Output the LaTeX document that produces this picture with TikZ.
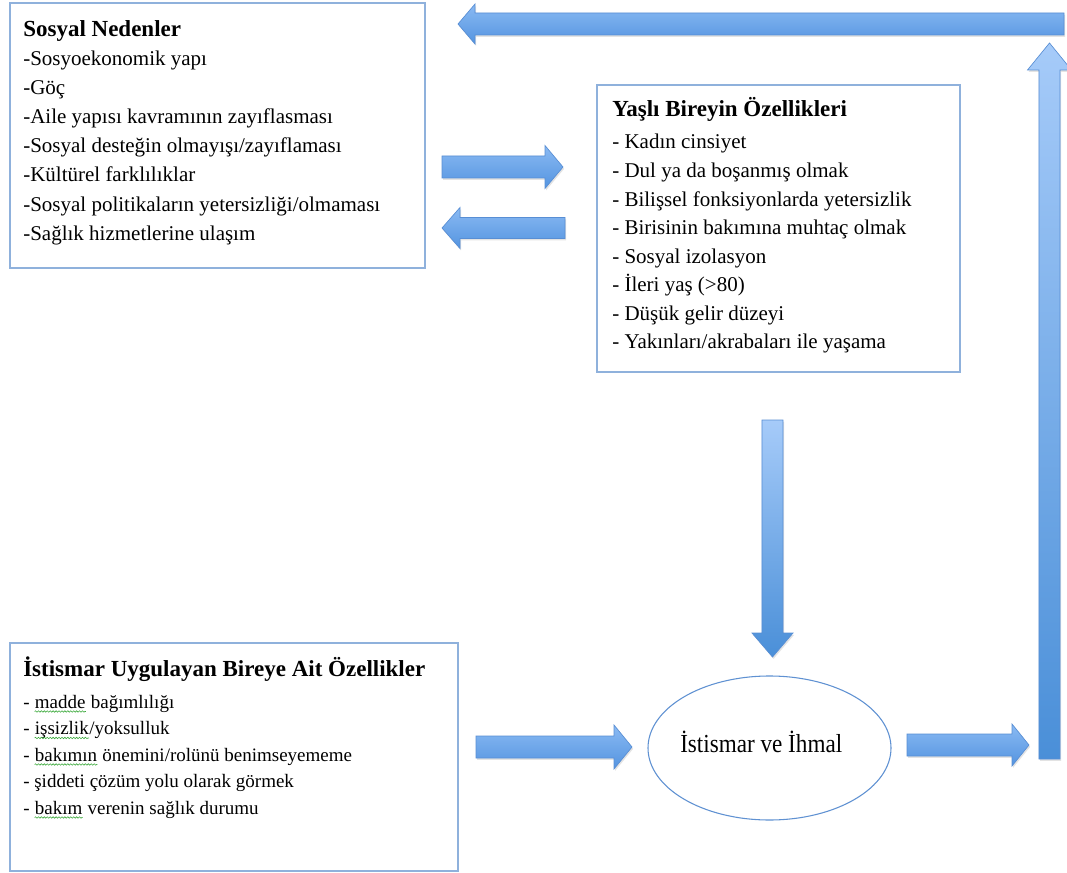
\documentclass[tikz,border=0pt]{standalone}
\usepackage{fontspec}
\setmainfont{Liberation Serif}
\usetikzlibrary{calc,shapes.geometric,shadows,decorations.pathmorphing}
\definecolor{boxline}{RGB}{143,177,220}
\definecolor{ellline}{RGB}{95,145,210}
\definecolor{arrline}{RGB}{88,142,212}
\definecolor{arrlight}{RGB}{166,203,249}
\definecolor{arrdark}{RGB}{74,143,216}
\definecolor{harrtop}{RGB}{138,186,243}
\definecolor{harrbot}{RGB}{84,148,224}
\definecolor{spellgreen}{RGB}{60,170,60}
\newcommand{\spellerr}[1]{\tikz[baseline=(spw.base)]{\node[inner sep=0pt,anchor=base] (spw) {#1};
  \draw[spellgreen,line width=0.45pt,decorate,decoration={snake,amplitude=0.55pt,segment length=2.2pt}]
    ([yshift=-2.6pt]spw.base west) -- ([yshift=-2.6pt]spw.base east);}}
% block arrow: [style]{start}{end}{shaft half width}{head half width}{head length}
\newcommand{\blockarrow}[6][]{%
  \coordinate (ba-h) at ($(#3)!#6!(#2)$);
  \path[#1] ($(#2)!#4!90:(#3)$) -- ($(ba-h)!#4!90:(#3)$) -- ($(ba-h)!#5!90:(#3)$) -- (#3)
    -- ($(ba-h)!#5!-90:(#3)$) -- ($(ba-h)!#4!-90:(#3)$) -- ($(#2)!#4!-90:(#3)$) -- cycle;
}
\begin{document}
\begin{tikzpicture}[x=0.75pt,y=-0.75pt,
  box/.style={draw=boxline,line width=1.1pt,fill=white,inner sep=0pt,rectangle},
  titletext/.style={font=\fontsize{17.25pt}{20pt}\selectfont\bfseries,inner sep=0pt,anchor=base west},
  itemtext/.style={font=\fontsize{15.75pt}{19pt}\selectfont,inner sep=0pt,anchor=base west},
  smallitem/.style={font=\fontsize{14.25pt}{17pt}\selectfont,inner sep=0pt,anchor=base west},
  harrow/.style={top color=harrtop,bottom color=harrbot,draw=arrline,line width=0.5pt,
    drop shadow={shadow xshift=0.8pt,shadow yshift=-1.4pt,opacity=0.22,fill=black!50}},
  varrow/.style={top color=arrlight,bottom color=arrdark,draw=arrline,line width=0.5pt,
    drop shadow={shadow xshift=0.8pt,shadow yshift=-1.4pt,opacity=0.22,fill=black!50}}]
\fill[white] (0,0) rectangle (1067,873);
\useasboundingbox (0,0) rectangle (1067,873);

% boxes
\node[box,minimum width=311.25pt,minimum height=198.75pt] (sosyal) at (217.5,135.5) {};
\node[box,minimum width=272.25pt,minimum height=215.25pt] (yasli) at (778.5,228.5) {};
\node[box,minimum width=336pt,minimum height=171pt] (uygulayan) at (234,757) {};
\node[draw=ellline,line width=0.8pt,ellipse,minimum width=182.25pt,minimum height=108pt,inner sep=0pt] (ihmal) at (769.5,748) {};

% texts box 1
\node[titletext] (sosyal-t) at (23,37) {Sosyal Nedenler};
\foreach \t [count=\i] in {{-Sosyoekonomik yapı},{-Göç},{-Aile yapısı kavramının zayıflasması},
  {-Sosyal desteğin olmayışı/zayıflaması},{-Kültürel farklılıklar},
  {-Sosyal politikaların yetersizliği/olmaması},{-Sağlık hizmetlerine ulaşım}}
  \node[itemtext] (sosyal-\i) at (23,{36+29.2*\i}) {\t};

% texts box 2
\node[titletext] (yasli-t) at (612,117) {Yaşlı Bireyin Özellikleri};
\foreach \t [count=\i] in {{- Kadın cinsiyet},{- Dul ya da boşanmış olmak},
  {- Bilişsel fonksiyonlarda yetersizlik},{- Birisinin bakımına muhtaç olmak},
  {- Sosyal izolasyon},{- İleri yaş (>80)},{- Düşük gelir düzeyi},
  {- Yakınları/akrabaları ile yaşama}}
  \node[itemtext] (yasli-\i) at (612,{120.43+28.57*\i}) {\t};

% texts box 3
\node[titletext] (uyg-t) at (23,676) {İstismar Uygulayan Bireye Ait Özellikler};
\node[smallitem] (uyg-1) at (23,708) {- \spellerr{madde} bağımlılığı};
\node[smallitem] (uyg-2) at (23,734.5) {- \spellerr{işsizlik}/yoksulluk};
\node[smallitem] (uyg-3) at (23,761) {- \spellerr{bakımın} önemini/rolünü benimseyememe};
\node[smallitem] (uyg-4) at (23,787.5) {- şiddeti çözüm yolu olarak görmek};
\node[smallitem] (uyg-5) at (23,814) {- \spellerr{bakım} verenin sağlık durumu};

% ellipse text
\node[font=\fontsize{19.5pt}{22pt}\selectfont,inner sep=0pt,anchor=base west] (ihmal-t) at (680,752) {\scalebox{0.89}[1]{İstismar ve İhmal}};

% arrow end points
\coordinate (top-s) at (1064,24);   \coordinate (top-e) at (458,24);
\coordinate (mr-s) at (442,167);    \coordinate (mr-e) at (563,167);
\coordinate (ml-s) at (565,228);    \coordinate (ml-e) at (442,228);
\coordinate (dn-s) at (772.5,420);  \coordinate (dn-e) at (772.5,657);
\coordinate (bl-s) at (476,747);    \coordinate (bl-e) at (632,747);
\coordinate (br-s) at (907,745);    \coordinate (br-e) at (1029,745);
\coordinate (up-s) at (1049.5,759); \coordinate (up-e) at (1049.5,43);

\blockarrow[harrow]{top-s}{top-e}{8.25pt}{15pt}{12.75pt}
\blockarrow[harrow]{mr-s}{mr-e}{8.25pt}{16.1pt}{13.5pt}
\blockarrow[harrow]{ml-s}{ml-e}{7.9pt}{15.4pt}{13.5pt}
\blockarrow[varrow]{dn-s}{dn-e}{7.9pt}{15.4pt}{18pt}
\blockarrow[harrow]{bl-s}{bl-e}{8.25pt}{16.5pt}{13.5pt}
\blockarrow[harrow]{br-s}{br-e}{8.25pt}{15.75pt}{12.75pt}
\blockarrow[varrow]{up-s}{up-e}{7.9pt}{16.5pt}{20.25pt}
\end{tikzpicture}
\end{document}
